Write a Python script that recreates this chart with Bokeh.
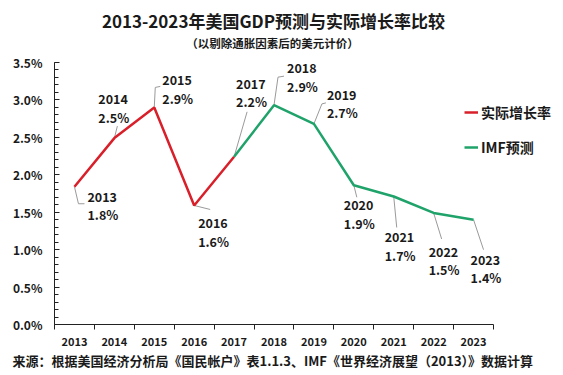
from bokeh.plotting import figure
from bokeh.models import (FixedTicker, PrintfTickFormatter, Title, Legend,
                          LegendItem, ColumnDataSource, Range1d)
from bokeh.embed import file_html
from bokeh.resources import INLINE
from bokeh.core.properties import value

# ---------------- data ----------------
years = [2013, 2014, 2015, 2016, 2017, 2018, 2019, 2020, 2021, 2022, 2023]
growth = [1.84, 2.49, 2.90, 1.59, 2.24, 2.93, 2.68, 1.86, 1.71, 1.49, 1.40]
value_labels = ["1.8%", "2.5%", "2.9%", "1.6%", "2.2%", "2.9%", "2.7%",
                "1.9%", "1.7%", "1.5%", "1.4%"]
actual_years = years[:5]
actual_growth = growth[:5]
imf_years = years[4:]
imf_growth = growth[4:]
y_ticks = [0.0, 0.5, 1.0, 1.5, 2.0, 2.5, 3.0, 3.5]
series_names = ["实际增长率", "IMF预测"]
title_text = "2013-2023年美国GDP预测与实际增长率比较"
subtitle_text = "（以剔除通胀因素后的美元计价）"
footer_text = "来源：根据美国经济分析局《国民帐户》表1.1.3、IMF《世界经济展望（2013）》数据计算"

# ---------------- layout (pixels) ----------------
W, H = 563, 375
L, R, T, B = 54, 493, 62, 324
x0, x1 = 2012.5, 2023.5
y0, y1 = 0.0, 3.5
PXX = (R - L) / (x1 - x0)
PXY = (B - T) / (y1 - y0)


def X(px):
    return x0 + (px - L) / PXX


def Y(py):
    return y0 + (B - py) / PXY


# label offsets (px from point; dy positive = down)
label_dx = [13, -16, 8, 4, 2, 13, 13, -10, -9, -5, -3]
label_dy = [10, -39, -27, 18, -73, -37, -29, 20, 41, 39, 40]
leaders = [[(0, 0), (4, 17), (10, 17)], [(0, 0), (3, -12)],
           [(0, 0), (1, -20), (6, -21)], [(0, 0), (16, 4)],
           [(0, 0), (13, -45)], [(0, 0), (4, -28), (10, -29)],
           [(0, 0), (8, -20), (12, -21)], [(0, 0), (3, 12)],
           [(0, 0), (3, 31)], [(0, 0), (8, 26)], [(0, 0), (10, 30)]]

FONT = "Noto Sans CJK SC"
TXT = "#1a1a1a"
RED = "#d9202a"
GREEN = "#1fa36a"

p = figure(width=W, height=H, x_range=Range1d(x0, X(W)), y_range=Range1d(y0, Y(0)),
           output_backend="svg", toolbar_location=None,
           min_border_left=L, min_border_right=0, min_border_top=0,
           min_border_bottom=H - B)
p.outline_line_color = None
p.xgrid.visible = False
p.ygrid.visible = False
p.background_fill_color = "white"

# x axis
xa = p.xaxis[0]
xa.bounds = (x0, x1)
xa.ticker = FixedTicker(ticks=years, minor_ticks=[x0 + i for i in range(12)])
xa.major_tick_in = 0
xa.major_tick_out = 0
xa.minor_tick_in = 0
xa.minor_tick_out = 5
xa.axis_line_color = "#222222"
xa.minor_tick_line_color = "#222222"
xa.major_label_text_font = FONT
xa.major_label_text_font_size = "11px"
xa.major_label_text_font_style = "bold"
xa.major_label_text_color = TXT
xa.major_label_standoff = 7

# y axis
ya = p.yaxis[0]
ya.bounds = (y0, y1)
ya.ticker = FixedTicker(ticks=y_ticks, minor_ticks=[i / 10 for i in range(36)])
ya.formatter = PrintfTickFormatter(format="%.1f%%")
ya.major_tick_in = 5
ya.major_tick_out = 0
ya.minor_tick_in = 4
ya.minor_tick_out = 0
ya.axis_line_color = "#222222"
ya.major_tick_line_color = "#222222"
ya.minor_tick_line_color = "#222222"
ya.major_label_text_font = FONT
ya.major_label_text_font_size = "12px"
ya.major_label_text_font_style = "bold"
ya.major_label_text_color = TXT
ya.major_label_standoff = 12

# leader lines
lx, ly = [], []
for yr, v, pts in zip(years, growth, leaders):
    lx.append([yr + dx / PXX for dx, dy in pts])
    ly.append([v - dy / PXY for dx, dy in pts])
p.multi_line(lx, ly, line_color="#9a9a9a", line_width=1)

# series lines
r1 = p.line(actual_years, actual_growth, line_color=RED, line_width=2.5)
r2 = p.line(imf_years, imf_growth, line_color=GREEN, line_width=2.5)

# data labels
src = ColumnDataSource(dict(x=years, y=growth, yl=[str(y) for y in years],
                            vl=value_labels, dx=label_dx, dy=label_dy,
                            dy2=[d + 18 for d in label_dy]))
for col, off in (("yl", "dy"), ("vl", "dy2")):
    p.text(x="x", y="y", text=col, x_offset="dx", y_offset=off, source=src,
           text_font=value(FONT), text_font_size="12.5px", text_font_style="bold",
           text_color=TXT, text_align="left", text_baseline="middle")

# titles
p.text(x=[X(273)], y=[Y(20)], text=[title_text], text_font=value(FONT),
       text_font_size="17px", text_font_style="bold", text_color=TXT,
       text_align="center", text_baseline="middle")
p.text(x=[X(272)], y=[Y(42)], text=[subtitle_text], text_font=value(FONT),
       text_font_size="11.5px", text_font_style="bold", text_color=TXT,
       text_align="center", text_baseline="middle")

# footer
p.add_layout(Title(text=footer_text, align="left", offset=12 - L, standoff=0,
                   text_font=FONT, text_font_size="13px", text_font_style="bold",
                   text_color=TXT), "below")

# legend
legend = Legend(items=[LegendItem(label=series_names[0], renderers=[r1]),
                       LegendItem(label=series_names[1], renderers=[r2])],
                location=(464 - L, B - 157), padding=0, margin=0, spacing=15,
                glyph_width=14, glyph_height=20, label_height=20, label_standoff=3,
                label_text_font=FONT, label_text_font_size="14px",
                label_text_font_style="bold", label_text_color=TXT,
                border_line_color=None, background_fill_alpha=0)
p.add_layout(legend, "center")

open("out.html", "w").write(file_html(p, INLINE))
